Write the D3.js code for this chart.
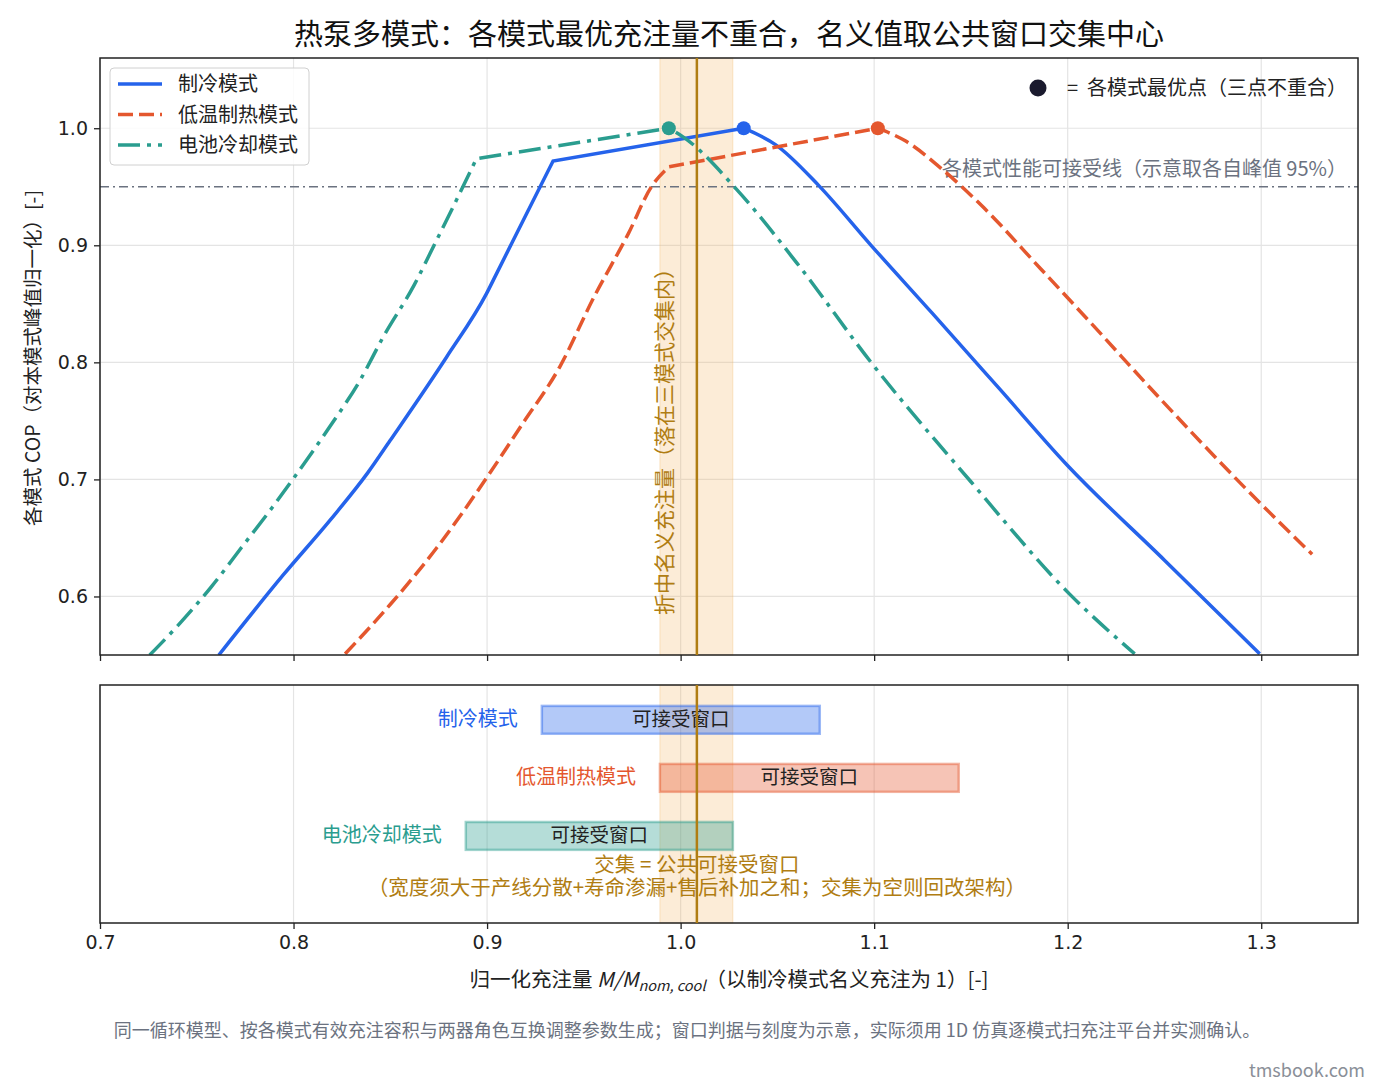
<!DOCTYPE html>
<html>
<head>
<meta charset="utf-8">
<script src="https://cdn.jsdelivr.net/npm/d3@7"></script>
<style>
  body { margin: 0; background: #fff; }
  svg text { font-family: "Noto Sans CJK SC", "Noto Sans", sans-serif; }
  svg .tick text { font-family: "DejaVu Sans", sans-serif; }
</style>
</head>
<body>
<div id="chart"></div>
<script>
// ---- data ----
const modes = ['制冷模式', '低温制热模式', '电池冷却模式'];

// normalised charge vs normalised COP, one pair of arrays per mode
const coolX = [0.7614, 0.795, 0.8188, 0.8385, 0.8498, 0.8791, 0.8997, 0.9049, 0.9204, 0.9341, 1.0326,
  1.049, 1.0714, 1.0984, 1.13, 1.1647, 1.1993, 1.25, 1.2992];
const coolY = [0.55, 0.619, 0.665, 0.706, 0.733, 0.8046, 0.8587, 0.8758, 0.927, 0.972, 1.0,
  0.986, 0.951, 0.900, 0.842, 0.7775, 0.713, 0.631, 0.551];

const heatX = [0.8267, 0.8504, 0.8742, 0.8988, 0.9177, 0.9375, 0.9553, 0.973, 0.9849, 0.9939, 1.1019,
  1.1163, 1.1344, 1.1567, 1.186, 1.2129, 1.2466, 1.2915, 1.3263];
const heatY = [0.551, 0.594, 0.642, 0.699, 0.746, 0.796, 0.856, 0.910, 0.950, 0.967, 1.0,
  0.989, 0.966, 0.932, 0.880, 0.832, 0.771, 0.693, 0.636];

const battX = [0.7257, 0.7396, 0.7574, 0.7732, 0.789, 0.8009, 0.8187, 0.8345, 0.8463, 0.8623, 0.8739, 0.884, 0.8945, 0.9939,
  1.0018, 1.0288, 1.06, 1.0984, 1.15, 1.201, 1.2346];
const battY = [0.55, 0.574, 0.608, 0.642, 0.676, 0.703, 0.745, 0.785, 0.8216, 0.866, 0.9043, 0.938, 0.974, 1.0,
  0.992, 0.948, 0.885, 0.80, 0.698, 0.602, 0.551];

const optX = [1.0326, 1.1019, 0.9939];   // per-mode optimum charge
const optY = [1.0, 1.0, 1.0];

const threshold = 0.95;
const windowLo = [0.9283, 0.9893, 0.889];  // acceptable windows (COP >= 95 % peak)
const windowHi = [1.0719, 1.1437, 1.027];
const bandLo = 0.9893, bandHi = 1.027;       // intersection
const nominal = 1.0084;

const xTicks = [0.7, 0.8, 0.9, 1.0, 1.1, 1.2, 1.3];
const yTicks = [0.6, 0.7, 0.8, 0.9, 1.0];

const colors = ['#2563eb', '#e4572e', '#2a9d8f'];
const gold = '#b07d12';

// ---- layout ----
const W = 1380, H = 1086;
const pTop = { t: 58, b: 655 }, pBot = { t: 685, b: 923 };
const L = 100, R = 1358;

const svg = d3.select('#chart').append('svg').attr('width', W).attr('height', H);

const x = d3.scaleLinear().domain([0.7, 1.35]).range([L, R]);
const y = d3.scaleLinear().domain([0.55, 1.06]).range([pTop.b, pTop.t]);
const yb = d3.scaleLinear().domain([-1.5, 2.6]).range([pBot.b, pBot.t]);

// clip for top panel
svg.append('clipPath').attr('id', 'clipTop')
  .append('rect').attr('x', L).attr('y', pTop.t).attr('width', R - L).attr('height', pTop.b - pTop.t);

// title
svg.append('text').attr('x', 729).attr('y', 45).attr('text-anchor', 'middle')
  .attr('font-size', 29).attr('fill', '#111')
  .text('热泵多模式：各模式最优充注量不重合，名义值取公共窗口交集中心');

// ---- top panel ----
const gT = svg.append('g');
// grid
gT.append('g').selectAll('line').data(xTicks).join('line')
  .attr('x1', d => x(d)).attr('x2', d => x(d)).attr('y1', pTop.t).attr('y2', pTop.b)
  .attr('stroke', '#e4e4e4').attr('stroke-width', 1.2);
gT.append('g').selectAll('line').data(yTicks).join('line')
  .attr('x1', L).attr('x2', R).attr('y1', d => y(d)).attr('y2', d => y(d))
  .attr('stroke', '#e4e4e4').attr('stroke-width', 1.2);

// intersection band
gT.append('rect').attr('x', x(bandLo)).attr('width', x(bandHi) - x(bandLo))
  .attr('y', pTop.t).attr('height', pTop.b - pTop.t)
  .attr('fill', '#f4b25e').attr('fill-opacity', 0.25)
  .attr('stroke', '#f4b25e').attr('stroke-opacity', 0.3);

// threshold line
gT.append('line').attr('x1', L).attr('x2', R).attr('y1', y(threshold)).attr('y2', y(threshold))
  .attr('stroke', '#6b7280').attr('stroke-width', 1.6).attr('stroke-dasharray', '9,4,2,4');
gT.append('text').attr('x', 1347).attr('y', y(threshold) - 11).attr('text-anchor', 'end')
  .attr('font-size', 20).attr('fill', '#6b7280')
  .text('各模式性能可接受线（示意取各自峰值 95%）');

// nominal line
svg.append('line').attr('x1', x(nominal)).attr('x2', x(nominal)).attr('y1', pTop.t).attr('y2', pTop.b)
  .attr('stroke', gold).attr('stroke-width', 2.5);
gT.append('text')
  .attr('transform', `translate(${x(nominal) - 25},${615}) rotate(-90)`)
  .attr('font-size', 21).attr('fill', gold)
  .text('折中名义充注量（落在三模式交集内）');

// curves: smooth rise, straight run to the optimum, smooth fall
const series = [
  { xs: coolX, ys: coolY, dash: null, knee: 9, peak: 10 },
  { xs: heatX, ys: heatY, dash: '15,6', knee: 9, peak: 10 },
  { xs: battX, ys: battY, dash: '22,7,4,7', knee: 12, peak: 13 }
];
const mono = d3.line().x(d => x(d[0])).y(d => y(d[1])).curve(d3.curveMonotoneX);
function curvePath(pts, knee, peak) {
  const rise = mono(pts.slice(0, knee + 1));
  const run = 'L' + x(pts[peak][0]) + ',' + y(pts[peak][1]);
  const fall = mono(pts.slice(peak)).replace(/^M/, 'L');
  return rise + run + fall;
}
const curves = gT.append('g').attr('clip-path', 'url(#clipTop)');
series.forEach((s, i) => {
  curves.append('path')
    .attr('d', curvePath(d3.zip(s.xs, s.ys), s.knee, s.peak)).attr('fill', 'none')
    .attr('stroke', colors[i]).attr('stroke-width', 3.5)
    .attr('stroke-dasharray', s.dash);
});
curves.selectAll('circle').data(d3.zip(optX, optY)).join('circle')
  .attr('cx', d => x(d[0])).attr('cy', d => y(d[1])).attr('r', 7)
  .attr('fill', (d, i) => colors[i]);

// frame + ticks
gT.append('rect').attr('x', L).attr('y', pTop.t).attr('width', R - L).attr('height', pTop.b - pTop.t)
  .attr('fill', 'none').attr('stroke', '#222').attr('stroke-width', 1.5);
gT.append('g').attr('transform', `translate(0,${pTop.b})`)
  .call(d3.axisBottom(x).tickValues(xTicks).tickSize(6).tickFormat(''))
  .call(g => g.select('.domain').remove())
  .call(g => g.selectAll('line').attr('stroke', '#222').attr('stroke-width', 1.3));
gT.append('g').attr('transform', `translate(${L},0)`)
  .call(d3.axisLeft(y).tickValues(yTicks).tickSize(6).tickPadding(6).tickFormat(d3.format('.1f')))
  .call(g => g.select('.domain').remove())
  .call(g => g.selectAll('line').attr('stroke', '#222').attr('stroke-width', 1.3))
  .call(g => g.selectAll('text').attr('font-size', 19).attr('fill', '#222'));

svg.append('text')
  .attr('transform', `translate(40,${358}) rotate(-90)`)
  .attr('text-anchor', 'middle').attr('font-size', 19.5).attr('fill', '#222')
  .text('各模式 COP（对本模式峰值归一化）[-]');

// legend
const lg = gT.append('g').attr('transform', 'translate(110,68)');
lg.append('rect').attr('width', 199).attr('height', 97).attr('rx', 4)
  .attr('fill', '#fff').attr('fill-opacity', 0.85).attr('stroke', '#d0d0d0');
modes.forEach((m, i) => {
  const yy = 16 + i * 30.5;
  lg.append('line').attr('x1', 8).attr('x2', 52).attr('y1', yy).attr('y2', yy)
    .attr('stroke', colors[i]).attr('stroke-width', 3.5).attr('stroke-dasharray', series[i].dash);
  lg.append('text').attr('x', 68).attr('y', yy + 7).attr('font-size', 20).attr('fill', '#222').text(m);
});

// optimum marker note
svg.append('circle').attr('cx', 1038).attr('cy', 88).attr('r', 8.5).attr('fill', '#1a1a2e');
svg.append('text').attr('x', 1347).attr('y', 95).attr('text-anchor', 'end')
  .attr('font-size', 20).attr('fill', '#222').attr('xml:space', 'preserve')
  .text('=  各模式最优点（三点不重合）');

// ---- bottom panel ----
const gB = svg.append('g');
gB.append('g').selectAll('line').data(xTicks).join('line')
  .attr('x1', d => x(d)).attr('x2', d => x(d)).attr('y1', pBot.t).attr('y2', pBot.b)
  .attr('stroke', '#e4e4e4').attr('stroke-width', 1.2);
gB.append('rect').attr('x', x(bandLo)).attr('width', x(bandHi) - x(bandLo))
  .attr('y', pBot.t).attr('height', pBot.b - pBot.t)
  .attr('fill', '#f4b25e').attr('fill-opacity', 0.25)
  .attr('stroke', '#f4b25e').attr('stroke-opacity', 0.3);

const rowY = [2, 1, 0];
const barH = yb(0) - yb(0.48);
modes.forEach((m, i) => {
  gB.append('rect').attr('x', x(windowLo[i])).attr('width', x(windowHi[i]) - x(windowLo[i]))
    .attr('y', yb(rowY[i]) - barH / 2).attr('height', barH)
    .attr('fill', colors[i]).attr('fill-opacity', 0.35)
    .attr('stroke', colors[i]).attr('stroke-opacity', 0.45).attr('stroke-width', 2.5);
  gB.append('text').attr('x', (x(windowLo[i]) + x(windowHi[i])) / 2).attr('y', yb(rowY[i]) + 6)
    .attr('text-anchor', 'middle').attr('font-size', 19.5).attr('fill', '#222').text('可接受窗口');
  gB.append('text').attr('x', x(windowLo[i]) - 24).attr('y', yb(rowY[i]) + 6.5)
    .attr('text-anchor', 'end').attr('font-size', 20).attr('fill', colors[i]).text(m);
});

svg.append('line').attr('x1', x(nominal)).attr('x2', x(nominal)).attr('y1', pBot.t).attr('y2', pBot.b)
  .attr('stroke', gold).attr('stroke-width', 2.5);

gB.append('text').attr('x', x(nominal)).attr('y', 872).attr('text-anchor', 'middle')
  .attr('font-size', 20.5).attr('fill', gold).text('交集 = 公共可接受窗口');
gB.append('text').attr('x', x(nominal)).attr('y', 895).attr('text-anchor', 'middle')
  .attr('font-size', 20.5).attr('fill', gold)
  .text('（宽度须大于产线分散+寿命渗漏+售后补加之和；交集为空则回改架构）');

gB.append('rect').attr('x', L).attr('y', pBot.t).attr('width', R - L).attr('height', pBot.b - pBot.t)
  .attr('fill', 'none').attr('stroke', '#222').attr('stroke-width', 1.5);
gB.append('g').attr('transform', `translate(0,${pBot.b})`)
  .call(d3.axisBottom(x).tickValues(xTicks).tickSize(6).tickPadding(7).tickFormat(d3.format('.1f')))
  .call(g => g.select('.domain').remove())
  .call(g => g.selectAll('line').attr('stroke', '#222').attr('stroke-width', 1.3))
  .call(g => g.selectAll('text').attr('font-size', 19).attr('fill', '#222'));

// x label
const xl = svg.append('text').attr('x', 729).attr('y', 987).attr('text-anchor', 'middle')
  .attr('font-size', 20.5).attr('fill', '#222');
xl.append('tspan').text('归一化充注量 ');
xl.append('tspan').attr('font-style', 'italic').text('M');
xl.append('tspan').attr('font-style', 'italic').text('/M');
xl.append('tspan').attr('font-style', 'italic').attr('font-size', 14.5).attr('dy', 4).text('nom, cool');
xl.append('tspan').attr('dy', -4).text('（以制冷模式名义充注为 1）[-]');

// footer
svg.append('text').attr('x', 687).attr('y', 1037).attr('text-anchor', 'middle')
  .attr('font-size', 18).attr('fill', '#6b7280')
  .text('同一循环模型、按各模式有效充注容积与两器角色互换调整参数生成；窗口判据与刻度为示意，实际须用 1D 仿真逐模式扫充注平台并实测确认。');
svg.append('text').attr('x', 1365).attr('y', 1077).attr('text-anchor', 'end')
  .attr('font-size', 18).attr('fill', '#8a8f98').text('tmsbook.com');
</script>
</body>
</html>
